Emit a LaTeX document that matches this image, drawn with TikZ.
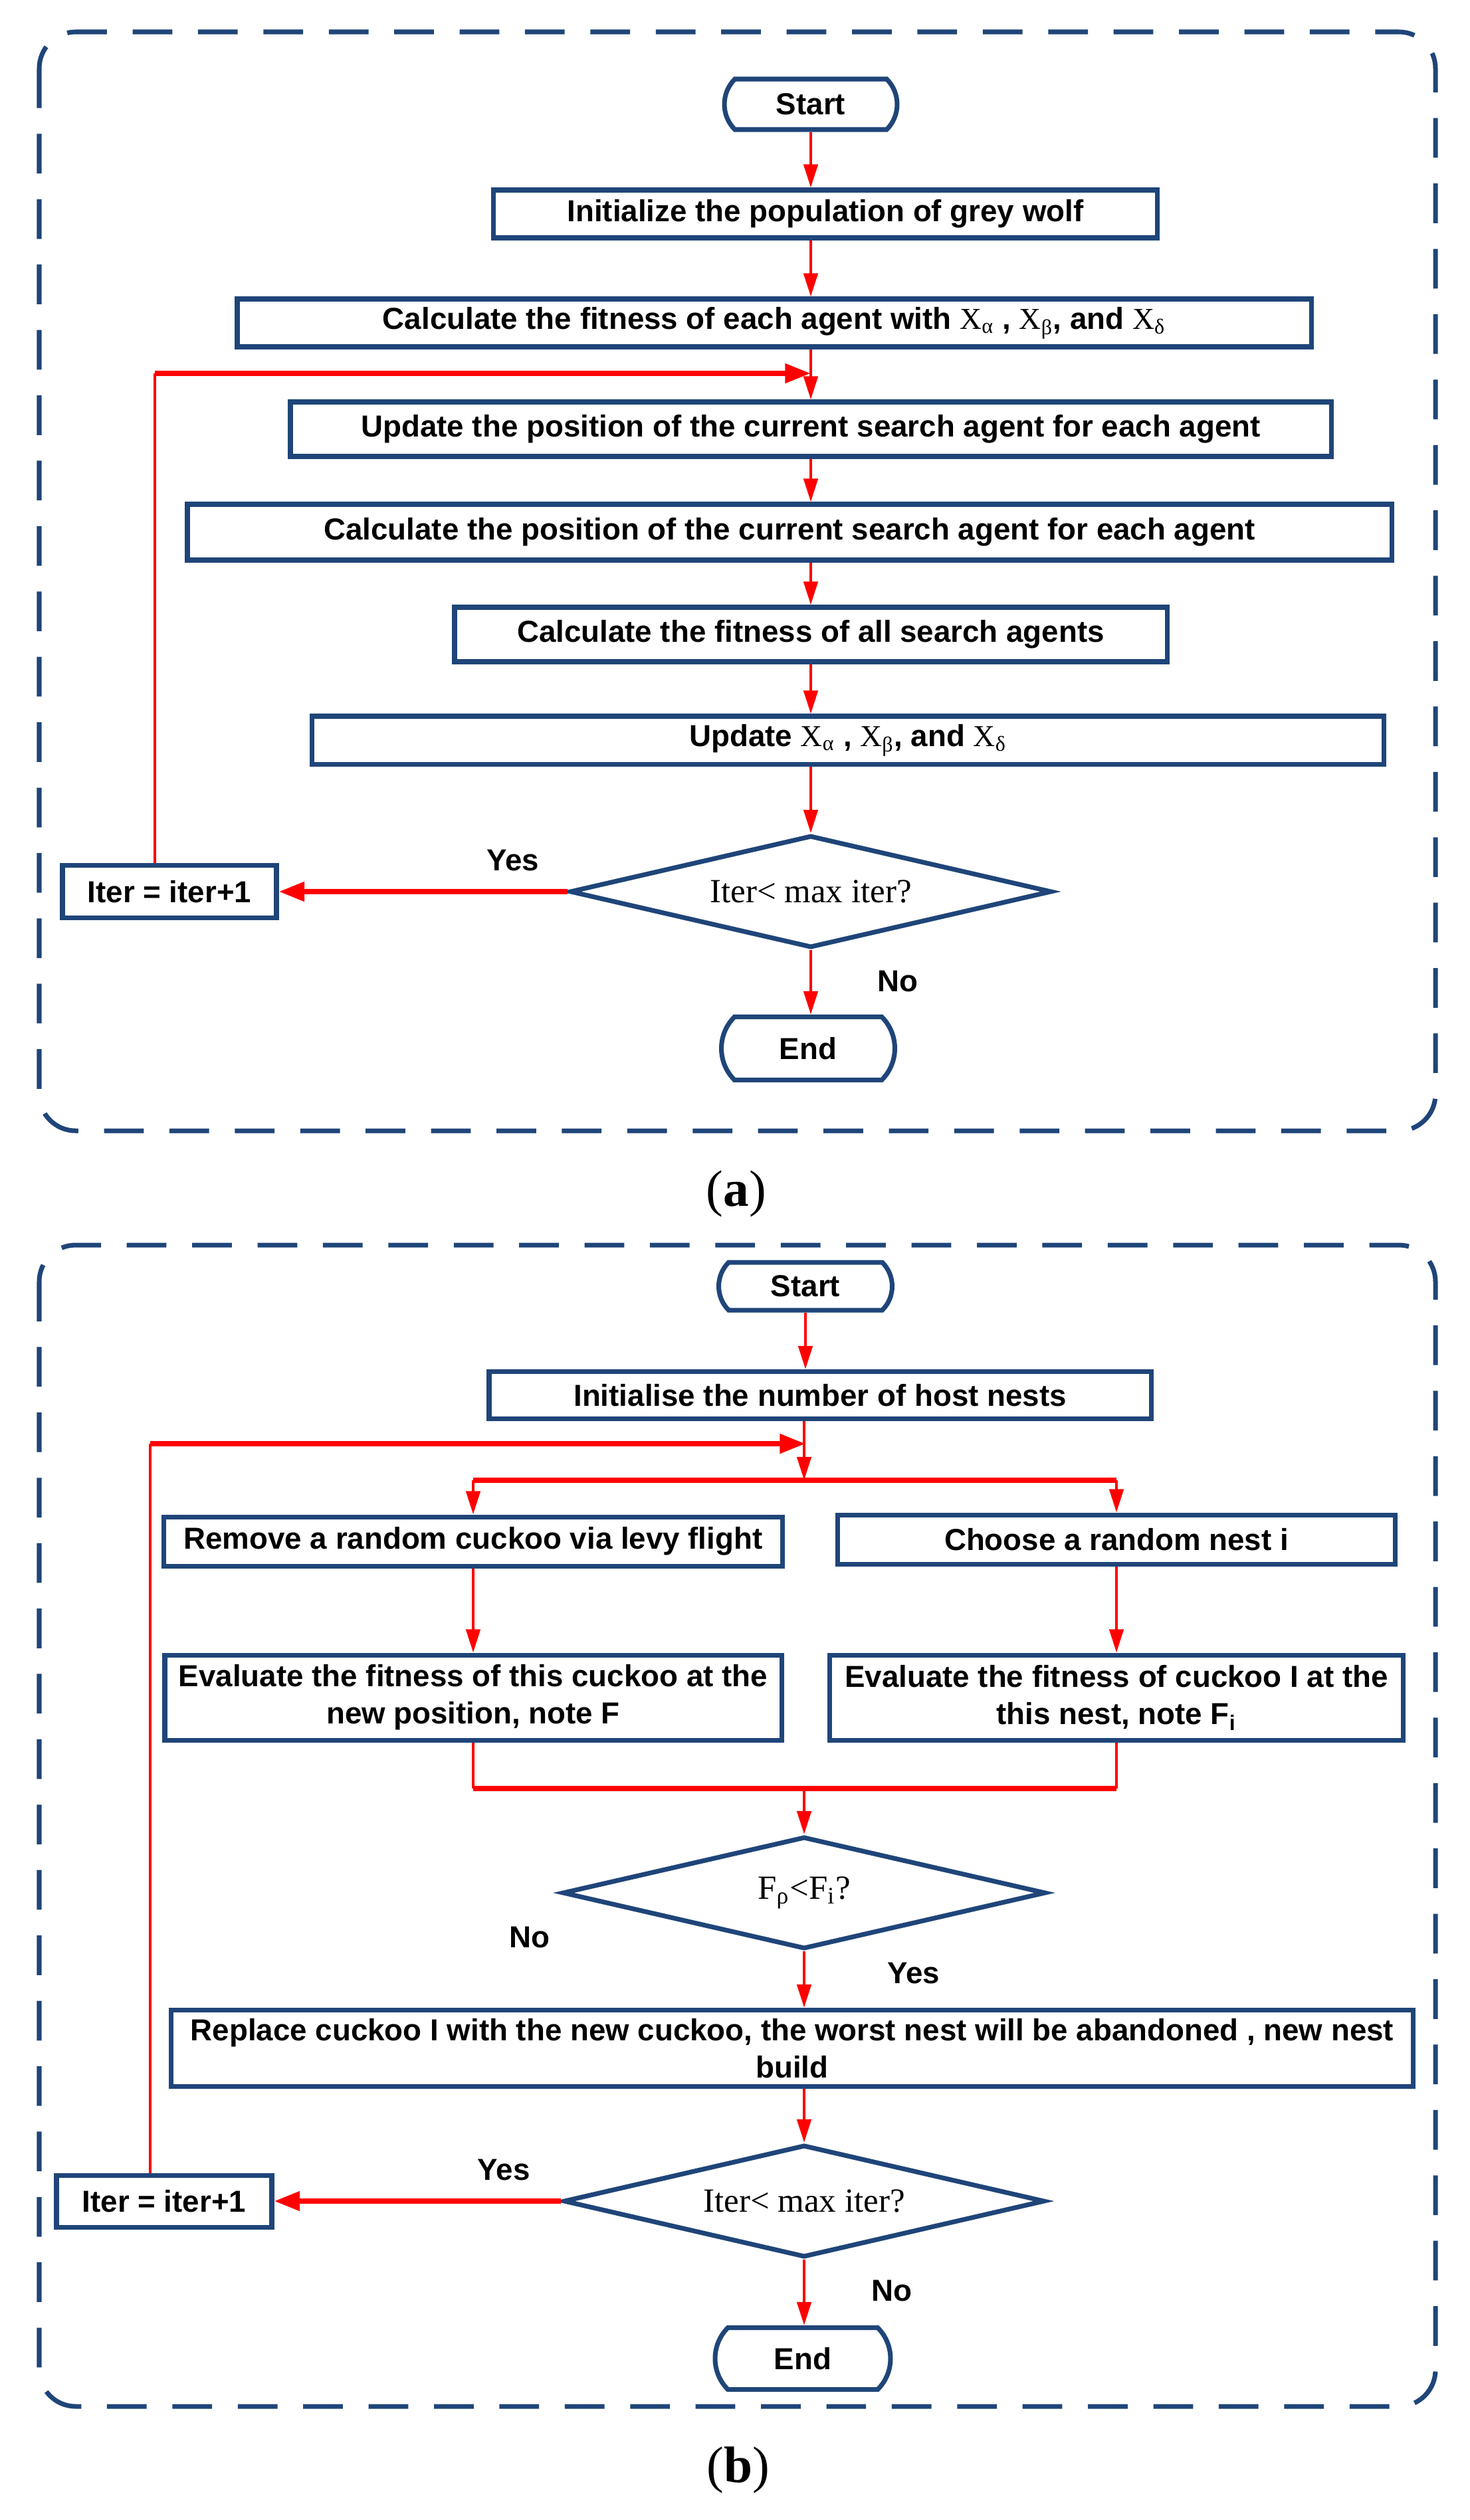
\documentclass[tikz,border=0pt]{standalone}
\usepackage{fontspec}
\setmainfont{Liberation Sans}
\newfontfamily\tnr{Liberation Serif}
\usepackage{tikz}
\usetikzlibrary{arrows.meta,positioning,shapes.geometric,shapes.misc,calc}
\definecolor{wolfblue}{HTML}{1F4579}
\definecolor{arrowred}{HTML}{FF0000}
\newcommand{\Xs}[1]{{\tnr\mdseries X\textsubscript{#1}}}
\tikzset{
  box/.style={rectangle, draw=wolfblue, fill=white, line width=2pt, align=center,
              inner sep=2pt, font=\bfseries\fontsize{13}{16}\selectfont},
  termbox/.style={rounded rectangle, rounded rectangle arc length=90, draw=wolfblue, fill=white,
              line width=2pt, inner sep=2pt, font=\bfseries\fontsize{13}{16}\selectfont},
  decbox/.style={diamond, aspect=4.3, draw=wolfblue, fill=white, line width=2pt, inner sep=0pt,
              font=\tnr\fontsize{14.5}{16}\selectfont},
  lbl/.style={font=\bfseries\fontsize{13}{16}\selectfont},
  captxt/.style={font=\tnr\fontsize{22}{24}\selectfont},
  flow/.style={-{Stealth[length=10pt,width=6pt,inset=0pt]}, draw=arrowred, line width=1.3pt},
  thickflow/.style={-{Stealth[length=11pt,width=8pt,inset=0pt]}, draw=arrowred, line width=2.2pt},
  wire/.style={draw=arrowred, line width=1.3pt},
  thickwire/.style={draw=arrowred, line width=2.2pt},
  panel/.style={draw=wolfblue, line width=2pt, dash pattern=on 17pt off 11pt, rounded corners=5.5mm}
}
\begin{document}
\begin{tikzpicture}
 \useasboundingbox (0,0) rectangle (22.12,-37.93);

 % (a) grey wolf
 \draw[panel] (0.59,-0.48) rectangle (21.60,-17.02);
 \node[termbox, minimum width=2.74cm, minimum height=0.76cm] (startA) at (12.20,-1.57) {Start};
 \node[box, minimum width=9.99cm, minimum height=0.72cm] (initA) at (12.42,-3.22) {Initialize the population of grey wolf};
 \node[box, minimum width=16.16cm, minimum height=0.72cm] (fitA) at (11.65,-4.86) {Calculate the fitness of each agent with \Xs{α} , \Xs{β}, and \Xs{δ}};
 \node[box, minimum width=15.66cm, minimum height=0.82cm] (updA) at (12.20,-6.46) {Update the position of the current search agent for each agent};
 \node[box, minimum width=18.12cm, minimum height=0.84cm] (posA) at (11.88,-8.01) {Calculate the position of the current search agent for each agent};
 \node[box, minimum width=10.72cm, minimum height=0.82cm] (allA) at (12.20,-9.55) {Calculate the fitness of all search agents};
 \node[box, minimum width=16.13cm, minimum height=0.72cm] (updXA) at (12.76,-11.14) {Update \Xs{α} , \Xs{β}, and \Xs{δ}};
 \node[decbox, minimum width=7.25cm, minimum height=1.69cm] (decA) at (12.20,-13.42) {Iter< max iter?};
 \node[box, minimum width=3.22cm, minimum height=0.79cm] (iterA) at (2.55,-13.42) {Iter = iter+1};
 \node[termbox, minimum width=2.75cm, minimum height=0.95cm] (endA) at (12.16,-15.78) {End};
 \coordinate (loopA) at (2.33,-5.62);
 \node[captxt] (capA) at (11.08,-17.97) {(\textbf{a})};

 \draw[flow](startA.south)--(startA.south |- initA.north);\draw[flow](initA.south -| startA)--(fitA.north -| startA);
 \draw[flow](fitA.south -| startA)--(updA.north);\draw[flow](updA.south)--(posA.north -| updA);
 \draw[flow](posA.south -| updA)--(allA.north);\draw[flow](allA.south)--(updXA.north -| allA);
 \draw[flow](updXA.south -| allA)--(decA.north);
 \draw[thickflow](decA.west)--(iterA.east) node[lbl,pos=0.19,yshift=4.7mm]{Yes};
 \draw[flow](decA.south)--(endA.north -| decA) node[lbl,pos=0.48,xshift=13.1mm]{No};
 \draw[wire](iterA.north -| loopA)--(loopA);\draw[thickflow](loopA)--(loopA -| startA);

 % (b) cuckoo search
 \draw[panel] (0.59,-18.74) rectangle (21.60,-36.22);
 \node[termbox, minimum width=2.75cm, minimum height=0.72cm] (startB) at (12.12,-19.36) {Start};
 \node[box, minimum width=9.96cm, minimum height=0.71cm] (initB) at (12.34,-21.00) {Initialise the number of host nests};
 \node[box, minimum width=9.31cm, minimum height=0.74cm] (remB) at (7.12,-23.20) {Remove a random cuckoo via levy flight};
 \node[box, minimum width=8.39cm, minimum height=0.74cm] (choB) at (16.80,-23.17) {Choose a random nest i};
 \node[box, minimum width=9.28cm, minimum height=1.28cm] (evlB) at (7.12,-25.55) {Evaluate the fitness of this cuckoo at the\\new position, note F};
 \node[box, minimum width=8.63cm, minimum height=1.28cm] (evrB) at (16.80,-25.55) {Evaluate the fitness of cuckoo I at the\\this nest, note F\textsubscript{i}};
 \node[decbox, minimum width=7.27cm, minimum height=1.69cm] (decB) at (12.10,-28.49) {F\textsubscript{ρ}<F\textsubscript{i}?};
 \node[box, minimum width=18.69cm, minimum height=1.15cm] (repB) at (11.92,-30.83) {Replace cuckoo I with the new cuckoo, the worst nest will be abandoned , new nest\\build};
 \node[decbox, minimum width=7.24cm, minimum height=1.69cm] (iterdecB) at (12.10,-33.13) {Iter< max iter?};
 \node[box, minimum width=3.24cm, minimum height=0.78cm] (iterB) at (2.47,-33.13) {Iter = iter+1};
 \node[termbox, minimum width=2.78cm, minimum height=0.93cm] (endB) at (12.08,-35.50) {End};
 \node[lbl] (noB) at (7.97,-29.16) {No};
 \coordinate (loopB) at (2.26,-21.73);
 \coordinate (splitB) at (12.10,-22.28);
 \coordinate (mergeB) at (12.10,-26.92);
 \node[captxt] (capB) at (11.11,-37.18) {(\textbf{b})};

 \draw[flow](startB.south)--(startB.south |- initB.north);\draw[flow](initB.south -| splitB)--(splitB);
 \draw[thickwire](remB.north |- splitB)--(choB.north |- splitB);
 \draw[flow](remB.north |- splitB)--(remB.north);\draw[flow](choB.north |- splitB)--(choB.north);
 \draw[flow](remB.south)--(evlB.north);\draw[flow](choB.south)--(evrB.north);
 \draw[wire](evlB.south)--(evlB.south |- mergeB);\draw[wire](evrB.south)--(evrB.south |- mergeB);
 \draw[thickwire](evlB.south |- mergeB)--(evrB.south |- mergeB);
 \draw[flow](mergeB)--(decB.north);
 \draw[flow](decB.south)--(decB.south |- repB.north) node[lbl,pos=0.39,xshift=16.5mm]{Yes};
 \draw[flow](repB.south -| iterdecB)--(iterdecB.north);
 \draw[thickflow](iterdecB.west)--(iterB.east) node[lbl,pos=0.2,yshift=4.7mm]{Yes};
 \draw[flow](iterdecB.south)--(endB.north -| iterdecB) node[lbl,pos=0.47,xshift=13.2mm]{No};
 \draw[wire](iterB.north -| loopB)--(loopB);\draw[thickflow](loopB)--(loopB -| startB);
\end{tikzpicture}
\end{document}
